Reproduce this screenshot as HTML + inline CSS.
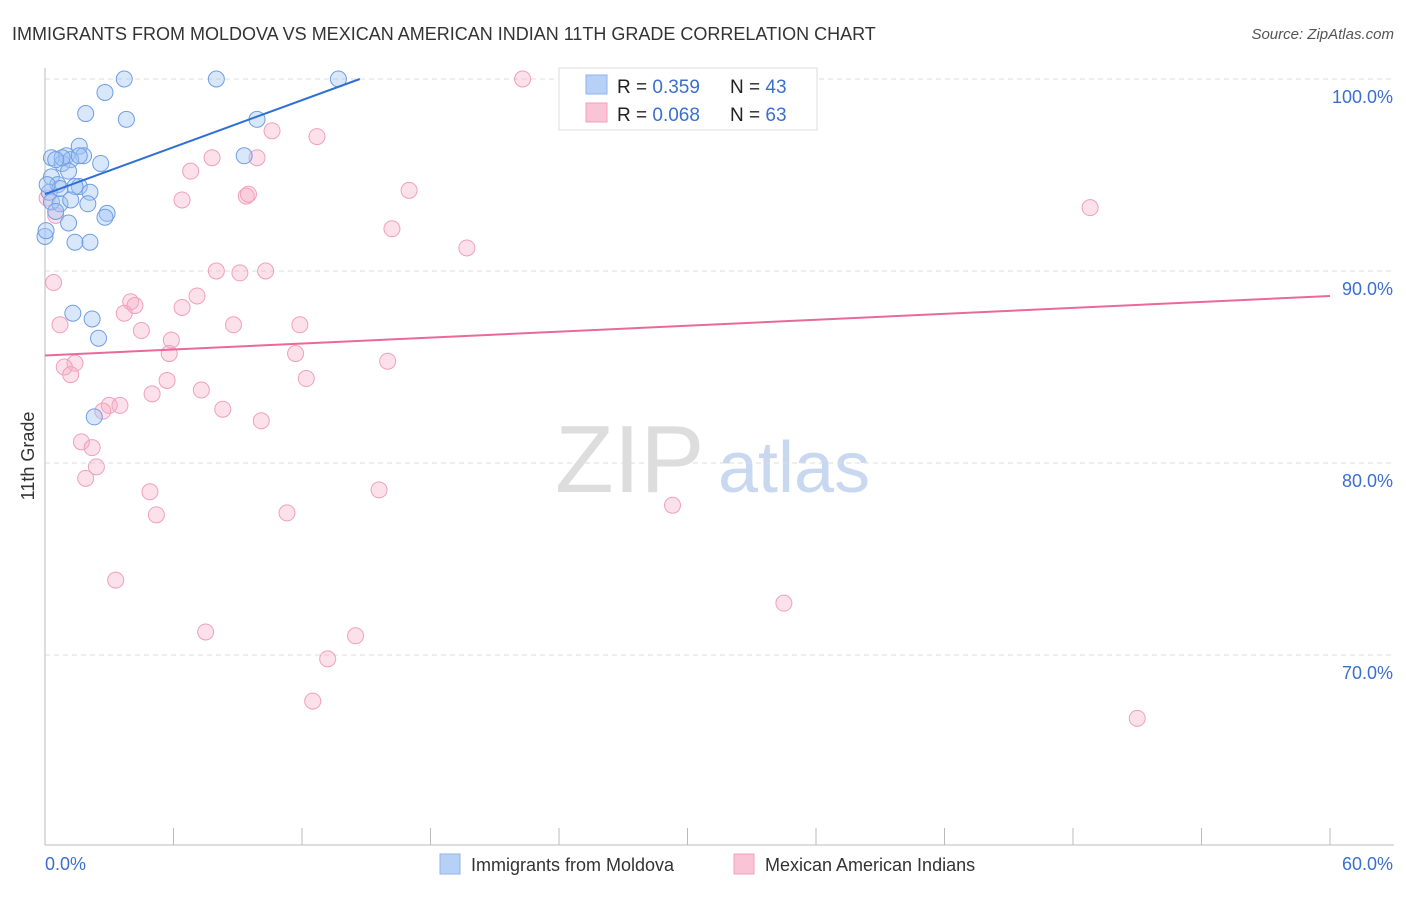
<!DOCTYPE html>
<html><head><meta charset="utf-8"><style>
body{margin:0;background:#fff;font-family:"Liberation Sans",sans-serif;}
svg text{font-family:"Liberation Sans",sans-serif;}
</style></head><body>
<svg id="c" width="1406" height="892" xmlns="http://www.w3.org/2000/svg">
<text x="12" y="40" font-size="18" fill="#333">IMMIGRANTS FROM MOLDOVA VS MEXICAN AMERICAN INDIAN 11TH GRADE CORRELATION CHART</text>
<text x="1394" y="39" font-size="15" fill="#555" font-style="italic" text-anchor="end">Source: ZipAtlas.com</text>
<text x="34" y="456" font-size="18" fill="#333" text-anchor="middle" transform="rotate(-90 34 456)">11th Grade</text>
<text x="555" y="492" font-size="96" fill="#ddd" font-family="Liberation Serif">ZIP</text>
<text x="718" y="492" font-size="72" fill="#c8d8f0">atlas</text>
<g id="grid"></g><g id="pts"></g><g id="lines"></g>
<g>
<rect x="559" y="68" width="258" height="62" fill="#fff" stroke="#ddd"/>
<rect x="586" y="75" width="21" height="19" fill="#b7d0f5" stroke="#8fb3ea"/>
<rect x="586" y="103" width="21" height="19" fill="#f9c4d5" stroke="#f1a0bb"/>
<text x="617" y="93" font-size="19" fill="#222">R = <tspan fill="#3a6fd0">0.359</tspan></text>
<text x="730" y="93" font-size="19" fill="#222">N = <tspan fill="#3a6fd0">43</tspan></text>
<text x="617" y="121" font-size="19" fill="#222">R = <tspan fill="#3a6fd0">0.068</tspan></text>
<text x="730" y="121" font-size="19" fill="#222">N = <tspan fill="#3a6fd0">63</tspan></text>
</g>
<g>
<rect x="440" y="854" width="20" height="20" fill="#b7d0f5" stroke="#8fb3ea"/>
<text x="471" y="871" font-size="18" fill="#333">Immigrants from Moldova</text>
<rect x="734" y="854" width="20" height="20" fill="#f9c4d5" stroke="#f1a0bb"/>
<text x="765" y="871" font-size="18" fill="#333">Mexican American Indians</text>
</g>
</svg>
<script>
const xTicks=[0,6,12,18,24,30,36,42,48,54,60];
const yTicks=[100,90,80,70];
const blueX=[3.7,8.0,13.7,2.8,1.9,3.8,9.9,1.6,1.0,0.3,1.8,2.6,0.8,1.2,9.3,1.1,0.3,0.6,1.6,2.1,0.2,0.3,2.0,0.7,2.9,2.8,1.1,0.0,1.4,2.1,1.3,2.2,2.5,2.3,0.7,0.1,0.5,0.8,1.4,1.2,1.6,0.5,0.05];
const blueY=[100,100,100,99.3,98.2,97.9,97.9,96.5,96.0,95.9,96.0,95.6,95.6,95.8,96.0,95.2,94.9,94.5,94.4,94.1,94.1,93.6,93.5,93.5,93.0,92.8,92.5,91.8,91.5,91.5,87.8,87.5,86.5,82.4,94.3,94.5,93.1,95.9,94.4,93.7,96.0,95.8,92.1];
const pinkX=[22.3,26.1,28.7,32.9,10.6,12.7,7.8,9.9,6.8,6.4,9.4,9.5,17.0,16.2,19.7,48.8,0.5,0.4,8.0,9.1,10.3,4.0,4.2,7.1,6.4,3.7,0.7,8.8,11.9,4.5,5.9,5.8,11.7,1.4,0.9,1.2,16.0,5.7,12.2,5.0,7.3,3.0,3.5,2.7,8.3,10.1,1.7,2.2,2.4,1.9,4.9,15.6,5.2,11.3,29.3,3.3,34.5,7.5,14.5,13.2,12.5,51.0,0.1];
const pinkY=[100,100,100,100,97.3,97.0,95.9,95.9,95.2,93.7,93.9,94.0,94.2,92.2,91.2,93.3,92.9,89.4,90.0,89.9,90.0,88.4,88.2,88.7,88.1,87.8,87.2,87.2,87.2,86.9,86.4,85.7,85.7,85.2,85.0,84.6,85.3,84.3,84.4,83.6,83.8,83.0,83.0,82.7,82.8,82.2,81.1,80.8,79.8,79.2,78.5,78.6,77.3,77.4,77.8,73.9,72.7,71.2,71.0,69.8,67.6,66.7,93.8];
const blueTrend=[[0,94.0],[14.7,100]];
const pinkTrend=[[0,85.6],[60,88.7]];
const ns="http://www.w3.org/2000/svg";
const X=v=>45+v*(1285/60), Y=v=>79+(100-v)*19.2;
function mk(t,a,p){const e=document.createElementNS(ns,t);for(const k in a)e.setAttribute(k,a[k]);p.appendChild(e);return e;}
const g=document.getElementById('grid');
yTicks.forEach(v=>{const l=mk('line',{x1:45,x2:1394,y1:Y(v),y2:Y(v),stroke:'#ddd','stroke-dasharray':'5,4'},g);


const t=mk('text',{x:1393,y:Y(v)+24,'font-size':18,fill:'#3a6fd0','text-anchor':'end'},g);t.textContent=v.toFixed(1)+'%';

});
mk('line',{x1:45,x2:45,y1:68,y2:845,stroke:'#bbb'},g);
mk('line',{x1:45,x2:1394,y1:845,y2:845,stroke:'#bbb'},g);
xTicks.forEach(v=>{const l=mk('line',{x1:X(v),x2:X(v),y1:828,y2:845,stroke:'#bbb'},g);

});
[[0,'start',45],[60,'end',1393]].forEach(([v,a,x])=>{const t=mk('text',{x:x,y:870,'font-size':18,fill:'#3a6fd0','text-anchor':a},g);t.textContent=v.toFixed(1)+'%';

});
const p=document.getElementById('pts');
pinkX.forEach((v,i)=>{const c=mk('circle',{cx:X(v),cy:Y(pinkY[i]),r:8,fill:'rgba(246,170,196,0.35)',stroke:'#f0a0bb','stroke-width':1},p);

});
blueX.forEach((v,i)=>{const c=mk('circle',{cx:X(v),cy:Y(blueY[i]),r:8,fill:'rgba(160,195,245,0.4)',stroke:'#6f9ee6','stroke-width':1},p);

});
const L=document.getElementById('lines');
const bl=mk('line',{x1:X(blueTrend[0][0]),y1:Y(blueTrend[0][1]),x2:X(blueTrend[1][0]),y2:Y(blueTrend[1][1]),stroke:'#2f6fd6','stroke-width':2},L);


const pl=mk('line',{x1:X(pinkTrend[0][0]),y1:Y(pinkTrend[0][1]),x2:X(pinkTrend[1][0]),y2:Y(pinkTrend[1][1]),stroke:'#e86a98','stroke-width':2},L);


</script>
</body></html>
